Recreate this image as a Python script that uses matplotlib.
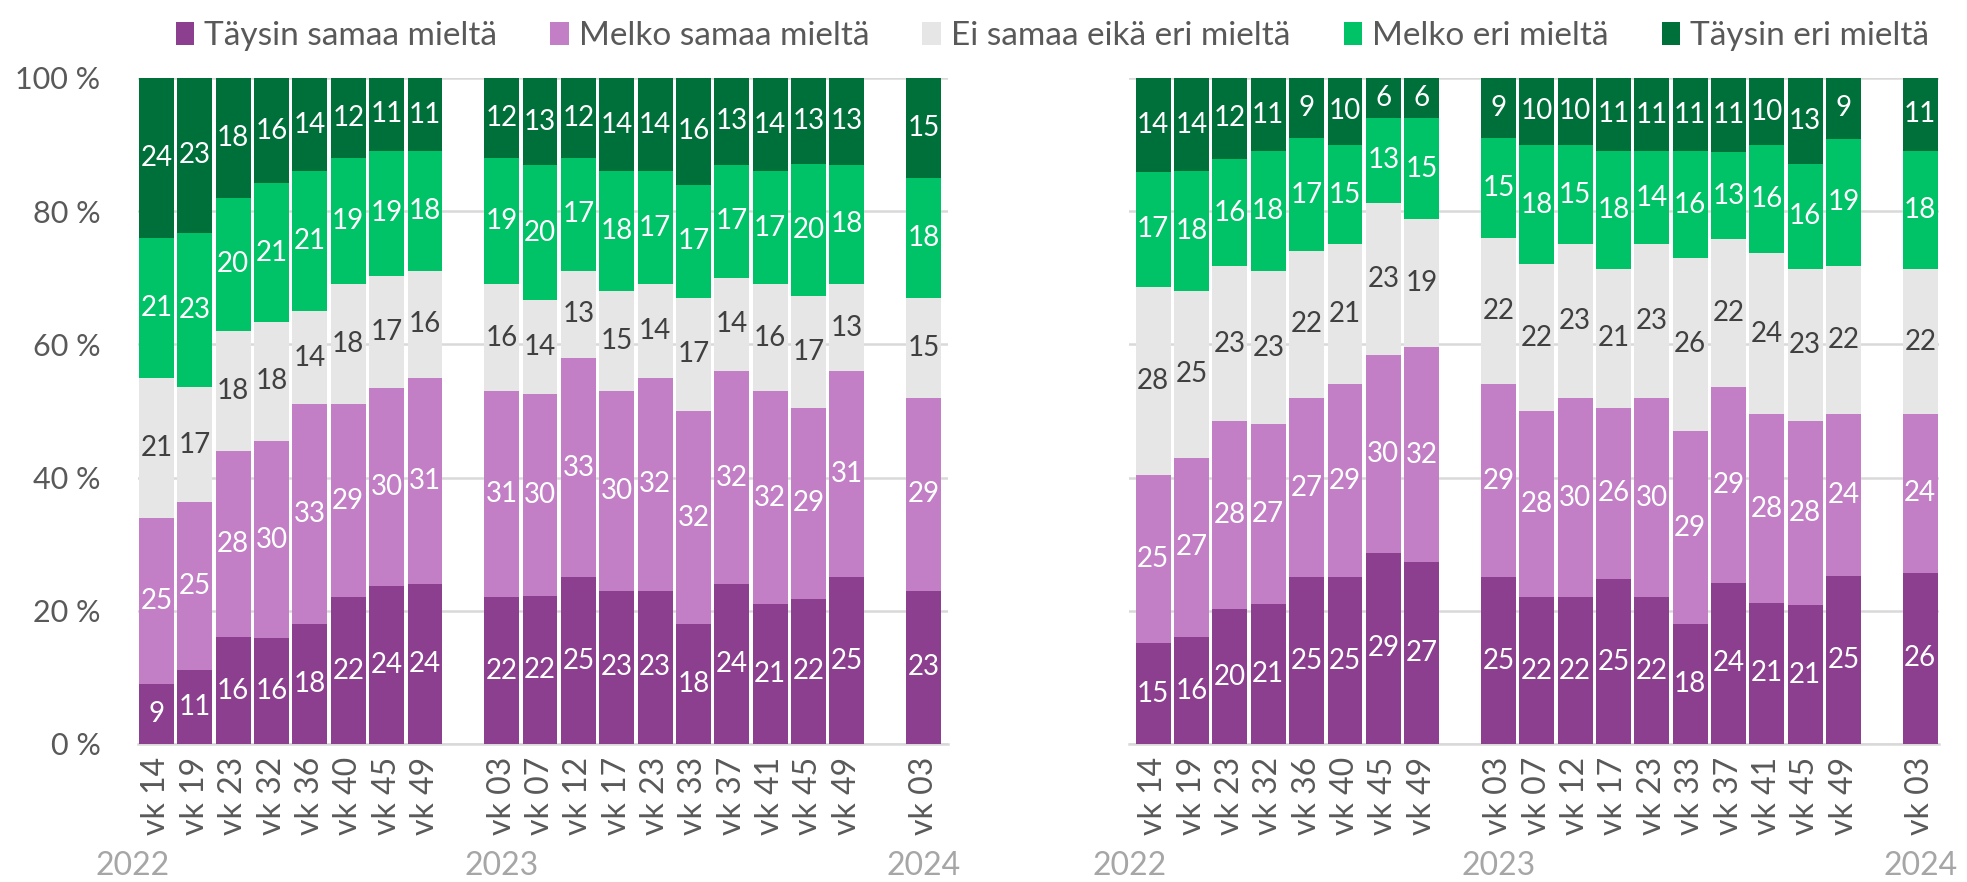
import matplotlib
matplotlib.use("Agg")
import matplotlib.pyplot as plt
from matplotlib.patches import Patch
import numpy as np

plt.rcParams['font.family'] = ['Lato', 'DejaVu Sans']

# luokat ja värit
categories = ["Täysin samaa mieltä", "Melko samaa mieltä", "Ei samaa eikä eri mieltä",
              "Melko eri mieltä", "Täysin eri mieltä"]
colors = ["#8B3F8E", "#C27FC6", "#E6E6E6", "#00C266", "#00703A"]
label_colors = ["white", "white", "#404040", "white", "white"]

years = ["2022", "2023", "2024"]
weeks_2022 = ["vk 14", "vk 19", "vk 23", "vk 32", "vk 36", "vk 40", "vk 45", "vk 49"]
weeks_2023 = ["vk 03", "vk 07", "vk 12", "vk 17", "vk 23", "vk 33", "vk 37", "vk 41", "vk 45", "vk 49"]
weeks_2024 = ["vk 03"]

# vasen kuvio (2022 | 2023 | 2024)
left_taysin_samaa = [9, 11, 16, 16, 18, 22, 24, 24,
                     22, 22, 25, 23, 23, 18, 24, 21, 22, 25,
                     23]
left_melko_samaa = [25, 25, 28, 30, 33, 29, 30, 31,
                    31, 30, 33, 30, 32, 32, 32, 32, 29, 31,
                    29]
left_ei_samaa_eika_eri = [21, 17, 18, 18, 14, 18, 17, 16,
                          16, 14, 13, 15, 14, 17, 14, 16, 17, 13,
                          15]
left_melko_eri = [21, 23, 20, 21, 21, 19, 19, 18,
                  19, 20, 17, 18, 17, 17, 17, 17, 20, 18,
                  18]
left_taysin_eri = [24, 23, 18, 16, 14, 12, 11, 11,
                   12, 13, 12, 14, 14, 16, 13, 14, 13, 13,
                   15]

# oikea kuvio
right_taysin_samaa = [15, 16, 20, 21, 25, 25, 29, 27,
                      25, 22, 22, 25, 22, 18, 24, 21, 21, 25,
                      26]
right_melko_samaa = [25, 27, 28, 27, 27, 29, 30, 32,
                     29, 28, 30, 26, 30, 29, 29, 28, 28, 24,
                     24]
right_ei_samaa_eika_eri = [28, 25, 23, 23, 22, 21, 23, 19,
                           22, 22, 23, 21, 23, 26, 22, 24, 23, 22,
                           22]
right_melko_eri = [17, 18, 16, 18, 17, 15, 13, 15,
                   15, 18, 15, 18, 14, 16, 13, 16, 16, 19,
                   18]
right_taysin_eri = [14, 14, 12, 11, 9, 10, 6, 6,
                    9, 10, 10, 11, 11, 11, 11, 10, 13, 9,
                    11]

left_data = [left_taysin_samaa, left_melko_samaa, left_ei_samaa_eika_eri, left_melko_eri, left_taysin_eri]
right_data = [right_taysin_samaa, right_melko_samaa, right_ei_samaa_eika_eri, right_melko_eri, right_taysin_eri]

groups = [weeks_2022, weeks_2023, weeks_2024]
xpos = []
ticklabels = []
group_start = []
start = 0
for g in groups:
    group_start.append(start)
    xpos += list(range(start, start + len(g)))
    ticklabels += g
    start += len(g) + 1
xpos = np.array(xpos)

fig = plt.figure(figsize=(19.67, 8.82), dpi=100)
ax1 = fig.add_axes([0.0702, 0.1565, 0.4116, 0.7551])
ax2 = fig.add_axes([0.574, 0.1565, 0.4116, 0.7551])


def draw(ax, data, xlim, show_y):
    vals = np.array(data, dtype=float)
    vals = vals / vals.sum(axis=0) * 100  # 100 % pinottu
    bottom = np.zeros(len(xpos))
    for i in range(len(categories)):
        ax.bar(xpos, vals[i], bottom=bottom, width=0.91, color=colors[i], zorder=3)
        for x, b, v, lab in zip(xpos, bottom, vals[i], data[i]):
            ax.text(x, b + v / 2, str(lab), ha='center', va='center', color=label_colors[i],
                    fontsize=20, zorder=4)
        bottom += vals[i]
    ax.set_ylim(0, 100)
    ax.set_xlim(*xlim)
    ax.set_yticks([0, 20, 40, 60, 80, 100])
    ax.grid(axis='y', color='#D9D9D9', linewidth=1.8, zorder=0)
    for s in ['top', 'right', 'left']:
        ax.spines[s].set_visible(False)
    ax.spines['bottom'].set_color('#D9D9D9')
    ax.spines['bottom'].set_linewidth(1.8)
    ax.tick_params(length=0, colors='#595959')
    ax.set_xticks(xpos)
    ax.set_xticklabels(ticklabels, rotation=90, fontsize=23, color='#595959')
    ax.tick_params(axis='x', pad=9)
    if show_y:
        ax.set_yticklabels([f"{v} %" for v in [0, 20, 40, 60, 80, 100]], fontsize=22,
                           color='#595959')
        ax.tick_params(axis='y', pad=27)
    else:
        ax.set_yticklabels([])
    for k, yr in enumerate(years):
        xx = group_start[k] - 0.62 if k == 0 else group_start[k]
        ax.text(xx, -18.3, yr, ha='center', va='center', fontsize=23,
                color='#A6A6A6', clip_on=False)


draw(ax1, left_data, (-0.48, 20.63), True)
draw(ax2, right_data, (-0.63, 20.48), False)

handles = [Patch(facecolor=c, edgecolor='none') for c in colors]
fig.legend(handles, categories, loc='upper center', bbox_to_anchor=(0.535, 1.01), ncol=5,
           frameon=False, handlelength=0.55, handleheight=0.7,
           handletextpad=0.3, columnspacing=1.6, labelcolor='#595959',
           prop={'size': 24})

fig.savefig("out.png", dpi=100)
